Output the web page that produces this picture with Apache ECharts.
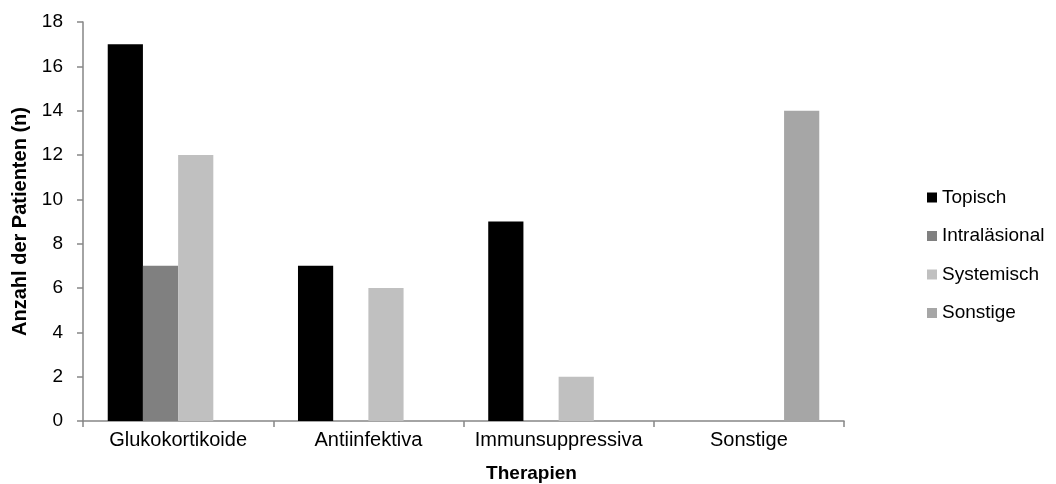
<!DOCTYPE html>
<html>
<head>
<meta charset="utf-8">
<script src="https://cdn.jsdelivr.net/npm/echarts@6/dist/echarts.min.js"></script>
<style>
  html, body { margin: 0; padding: 0; background: #fff; }
  #chart { width: 1056px; height: 484px; }
</style>
</head>
<body>
<div id="chart"></div>
<script>
// Therapy categories and patient counts per treatment form
const categories = ['Glukokortikoide', 'Antiinfektiva', 'Immunsuppressiva', 'Sonstige'];
const seriesNames = ['Topisch', 'Intraläsional', 'Systemisch', 'Sonstige'];
const topisch = [17, 7, 9, 0];
const intralaesional = [7, 0, 0, 0];
const systemisch = [12, 6, 2, 0];
const sonstige = [0, 0, 0, 14];
const yTicks = { min: 0, max: 18, interval: 2 };

const colors = ['#000000', '#808080', '#c0c0c0', '#a6a6a6'];
const values = [topisch, intralaesional, systemisch, sonstige];
const font = 'Liberation Sans, Arial, sans-serif';
const axisGray = '#868686';

const chart = echarts.init(document.getElementById('chart'), null, { renderer: 'canvas' });
chart.setOption({
  animation: false,
  backgroundColor: '#ffffff',
  grid: { left: 83, right: 212, top: 22, bottom: 63, containLabel: false, outerBoundsMode: 'none' },
  legend: {
    orient: 'vertical',
    left: 922,
    top: 183,
    itemWidth: 10,
    itemHeight: 10,
    itemGap: 19.5,
    icon: 'rect',
    textStyle: { fontFamily: font, fontSize: 19, color: '#000' },
    data: seriesNames
  },
  xAxis: {
    type: 'category',
    data: categories,
    name: 'Therapien',
    nameLocation: 'middle',
    nameGap: 43,
    nameTextStyle: { fontFamily: font, fontSize: 19, fontWeight: 'bold', color: '#000', padding: [0, 0, 0, 136] },
    axisLine: { lineStyle: { color: axisGray, width: 1.5 } },
    axisTick: { show: true, alignWithLabel: false, length: 6, lineStyle: { color: axisGray, width: 1.5 } },
    axisLabel: { interval: 0, hideOverlap: false, fontFamily: font, fontSize: 20, color: '#000', margin: 9 },
    splitLine: { show: false }
  },
  yAxis: {
    type: 'value',
    min: yTicks.min,
    max: yTicks.max,
    interval: yTicks.interval,
    name: 'Anzahl der Patienten (n)',
    nameLocation: 'middle',
    nameRotate: 90,
    nameGap: 52,
    nameTextStyle: { fontFamily: font, fontSize: 20, fontWeight: 'bold', color: '#000' },
    axisLine: { show: true, lineStyle: { color: axisGray, width: 1.5 } },
    axisTick: { show: true, length: 6, lineStyle: { color: axisGray, width: 1.5 } },
    axisLabel: { fontFamily: font, fontSize: 19, color: '#000', margin: 20 },
    splitLine: { show: false }
  },
  series: seriesNames.map((name, i) => ({
    name: name,
    type: 'bar',
    data: values[i],
    barGap: '0%',
    barCategoryGap: '26%',
    itemStyle: { color: colors[i] }
  }))
});
</script>
</body>
</html>
